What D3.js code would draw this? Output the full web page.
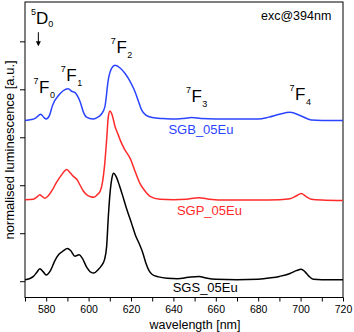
<!DOCTYPE html>
<html><head><meta charset="utf-8">
<script src="https://cdn.jsdelivr.net/npm/d3@7"></script>
<style>body{margin:0;background:#fff}svg{display:block}text{font-family:"Liberation Sans",Arial,sans-serif}</style>
</head><body><svg id="c" width="354" height="332"></svg>
<script>
// ---- data ----
const sgsWl  = [570,572,574,575.5,577,578.5,580,582,584,586,588,590,591.5,593.5,595.5,597,599,601,602.5,604.5,606,607.5,608.5,609.3,610.1,611,611.8,613,614.5,615.8,618,620.3,622,624,625.5,627,628.5,630,633,637,642,647,652,656,660,670,680,686,690,695,698,700.3,702,704,706,710,720];
const sgsVal = [0.03,0.05,0.10,0.18,0.26,0.20,0.13,0.22,0.42,0.56,0.63,0.68,0.64,0.52,0.55,0.48,0.30,0.19,0.17,0.24,0.32,0.45,0.72,1.34,1.83,2.15,2.25,2.18,2.00,1.82,1.50,1.20,0.97,0.77,0.60,0.38,0.22,0.14,0.09,0.06,0.05,0.08,0.10,0.06,0.04,0.03,0.04,0.07,0.10,0.16,0.22,0.25,0.20,0.10,0.04,0.03,0.03];

const sgpWl  = [570,574,575.5,577,578,579.3,581,583,585,587,589.7,591.5,593,594.5,596,597.5,599.5,601,602.5,604,605.5,606.5,607.5,608.5,609.3,610.1,611,612.5,614,615,617.2,619.6,622,624.2,626.6,629,633.7,640,646,652,657,665,680,690,695,698,700.3,702.5,705,710,720];
const sgpVal = [1.70,1.71,1.75,1.80,1.77,1.73,1.78,1.91,2.07,2.20,2.33,2.25,2.18,2.12,2.00,1.88,1.79,1.76,1.75,1.80,1.88,2.05,2.40,2.94,3.43,3.55,3.48,3.22,3.05,2.93,2.73,2.56,2.28,2.04,1.88,1.77,1.71,1.70,1.71,1.74,1.71,1.69,1.69,1.70,1.72,1.78,1.83,1.77,1.71,1.69,1.68];

const sgbWl  = [570,573,575,577.4,579,580,581.5,583,586,588,590.4,592,593.6,596,597.5,599,602,604,606,607.7,609.3,610.9,612.5,615,617.2,619.5,621.9,623.5,625,627,630,635,640,644,648.7,653,660,670,680,685,690,695,700,705,710,720];
const sgbVal = [3.35,3.37,3.40,3.48,3.41,3.38,3.45,3.67,3.88,3.97,4.01,3.96,3.93,3.74,3.53,3.42,3.38,3.41,3.48,3.64,4.20,4.44,4.50,4.44,4.33,4.17,3.95,3.75,3.57,3.46,3.41,3.39,3.38,3.39,3.41,3.39,3.38,3.38,3.38,3.42,3.48,3.52,3.45,3.36,3.35,3.35];

const seriesNames  = ["SGB_05Eu","SGP_05Eu","SGS_05Eu"];
const seriesColors = ["#2b44ff","#ff2a2a","#000000"];
const seriesLabelPos = [[653,3.06],[657,1.38],[655,-0.23]]; // [wavelength, value]

const xTicks = [570,580,590,600,610,620,630,640,650,660,670,680,690,700,710,720];
const xTickLabels = [580,600,620,640,660,680,700,720];
const yTicks = [0,1,2,3,4,5];

// transitions: [sup, main, sub, wavelength, value]
const transitions = [
  ["7","F","0",574.0,3.92],
  ["7","F","1",586.9,4.18],
  ["7","F","2",610.5,4.76],
  ["7","F","3",645.9,3.74],
  ["7","F","4",694.8,3.78]
];

// ---- chart ----
const svg = d3.select("#c");
const L=25, R=343, T=2, B=297.5;
const x = d3.scaleLinear().domain([570,720]).range([L,R]);
const y = d3.scaleLinear().domain([-0.34,5.82]).range([B,T]);

// frame
svg.append("rect").attr("x",L).attr("y",T).attr("width",R-L).attr("height",B-T)
  .attr("fill","none").attr("stroke","#000").attr("stroke-width",1);

// x axis
const xa = svg.append("g").attr("transform",`translate(0,${B})`)
  .call(d3.axisBottom(x).tickValues(xTicks).tickSize(4).tickPadding(2)
    .tickFormat(d => xTickLabels.includes(d) ? d : ""));
xa.select(".domain").remove();
xa.selectAll("text").attr("font-size",10.5).attr("font-family","Liberation Sans, Arial").attr("dy","0.95em").attr("fill","#000");
xa.selectAll("line").attr("stroke","#000");

// y axis
const ya = svg.append("g").attr("transform",`translate(${L},0)`)
  .call(d3.axisLeft(y).tickValues(yTicks).tickSize(5).tickFormat(""));
ya.select(".domain").remove();
ya.selectAll("line").attr("stroke","#000");

// axis titles
svg.append("text").attr("x",(L+R)/2+11).attr("y",328.5).attr("text-anchor","middle")
  .attr("font-size",12.5).text("wavelength [nm]");
svg.append("text").attr("transform","translate(13.5,150) rotate(-90)").attr("text-anchor","middle")
  .attr("font-size",13).text("normalised luminescence [a.u.]");

// lines
const line = d3.line().x(d=>x(d[0])).y(d=>y(d[1])).curve(d3.curveMonotoneX);
const all = [[sgbWl,sgbVal],[sgpWl,sgpVal],[sgsWl,sgsVal]];
const clip = svg.append("clipPath").attr("id","cp").append("rect")
  .attr("x",L).attr("y",T).attr("width",R-L).attr("height",B-T);
all.forEach((s,i)=>{
  const pts = s[0].map((w,j)=>[w,s[1][j]]);
  svg.append("path").attr("d",line(pts)).attr("fill","none")
    .attr("stroke",seriesColors[i]).attr("stroke-width",1.5)
    .attr("clip-path","url(#cp)");
  svg.append("text").attr("x",x(seriesLabelPos[i][0])).attr("y",y(seriesLabelPos[i][1]))
    .attr("text-anchor","middle").attr("font-size",13).attr("fill",seriesColors[i])
    .text(seriesNames[i]);
});

// transition labels
transitions.forEach(t=>{
  const tx = svg.append("text").attr("x",x(t[3])).attr("y",y(t[4])).attr("fill","#000");
  tx.append("tspan").attr("font-size",9).attr("dy",-9).text(t[0]);
  tx.append("tspan").attr("font-size",17).attr("dy",9).attr("dx",0.5).text(t[1]);
  tx.append("tspan").attr("font-size",9).attr("dy",5).attr("dx",0.5).text(t[2]);
});

// 5D0 label and arrow
const d0 = svg.append("text").attr("x",x(572.8)).attr("y",y(5.36));
d0.append("tspan").attr("font-size",9).attr("dy",-9).text("5");
d0.append("tspan").attr("font-size",17).attr("dy",9).text("D");
d0.append("tspan").attr("font-size",9).attr("dy",3).text("0");
svg.append("line").attr("x1",x(576.3)).attr("x2",x(576.3)).attr("y1",y(5.19)).attr("y2",y(4.92))
  .attr("stroke","#000").attr("stroke-width",1);
svg.append("path").attr("d",`M${x(576.3)-2.5},${y(4.92)-4} L${x(576.3)+2.5},${y(4.92)-4} L${x(576.3)},${y(4.92)+1} Z`)
  .attr("fill","#000");

// excitation note
svg.append("text").attr("x",x(714.5)).attr("y",y(5.45)).attr("text-anchor","end")
  .attr("font-size",12.5).text("exc@394nm");
</script></body></html>
